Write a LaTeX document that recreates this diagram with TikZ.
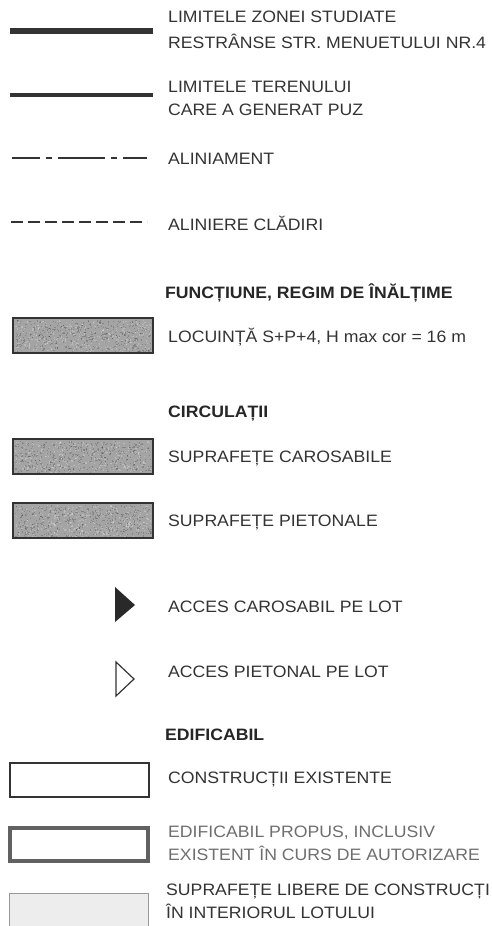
\documentclass[tikz,border=0pt]{standalone}
\usepackage{fontspec}
\setmainfont{Liberation Sans}[FakeStretch=1.07]
\usepackage{tikz}
\usetikzlibrary{positioning,calc}

\definecolor{ink}{HTML}{333333}
\definecolor{grain}{HTML}{A4A4A4}
\definecolor{pale}{HTML}{6E6E6E}

\tikzset{
	lbl/.style={anchor=base west, inner sep=0pt, text=ink, font=\fontsize{16.5}{24}\selectfont},
	hdr/.style={lbl, text=black!85, font=\fontsize{16.5}{24}\selectfont\bfseries},
	grainbox/.style={draw=ink, line width=1.5pt},
}

\begin{document}
\begin{tikzpicture}[x=1pt,y=-1pt]
		\useasboundingbox (0,0) rectangle (492,926);
		% limits
		\draw[ink, line width=6pt] (10,31) -- (153,31);
		\node[lbl] (zonaA) at (168,23) {LIMITELE ZONEI STUDIATE};
		\node[lbl] (zonaB) at (168,48) {RESTRÂNSE STR. MENUETULUI NR.4};
		\draw[ink, line width=4pt] (10,95) -- (153,95);
		\node[lbl] (terenA) at (168,92) {LIMITELE TERENULUI};
		\node[lbl] (terenB) at (168,115) {CARE A GENERAT PUZ};
		\draw[ink, line width=2.5pt, dash pattern=on 47pt off 6pt on 6pt off 6pt, dash phase=19pt] (12,158) -- (147,158);
		\node[lbl] (alin) at (168,164) {ALINIAMENT};
		\draw[ink, line width=2.5pt, dash pattern=on 12pt off 5pt] (11,222) -- (147,222);
		\node[lbl] (cladiri) at (168,230) {ALINIERE CLĂDIRI};
		% functiune
		\node[hdr] (functiune) at (165,298) {FUNCȚIUNE, REGIM DE ÎNĂLȚIME};
		\pgfmathsetseed{11}
		\foreach \by in {318,439,503} {
			\fill[grain] (13,\by) rectangle (153,\by+35);
			\foreach \k in {1,...,420}
				\fill[black, opacity=.18] (15+rnd*136,\by+2+rnd*31) rectangle ++(1.2,1.2);
			\foreach \k in {1,...,320}
				\fill[white, opacity=.25] (15+rnd*136,\by+2+rnd*31) rectangle ++(1.2,1.2);
			\draw[grainbox] (13,\by) rectangle (153,\by+35);
		}
		\node[lbl] (locuinta) at (168,342) {LOCUINȚĂ S+P+4, H max cor = 16 m};
		% circulatii
		\node[hdr] (circulatii) at (168,417) {CIRCULAȚII};
		\node[lbl] (carosabile) at (168,462) {SUPRAFEȚE CAROSABILE};
		\node[lbl] (pietonale) at (168,526) {SUPRAFEȚE PIETONALE};
		\fill[ink!80!black] (115,587) -- (135,605) -- (115,622) -- cycle;
		\node[lbl] (accesC) at (168,612) {ACCES CAROSABIL PE LOT};
		\draw[ink, line width=1.2pt] (116,662) -- (134,679) -- (116,696) -- cycle;
		\node[lbl] (accesP) at (168,677) {ACCES PIETONAL PE LOT};
		% edificabil
		\node[hdr] (edificabil) at (165,740) {EDIFICABIL};
		\draw[ink, line width=1.5pt] (10,763) rectangle (149,797);
		\node[lbl] (existente) at (168,783) {CONSTRUCȚII EXISTENTE};
		\draw[black!62, line width=4pt] (10,828) rectangle (148,861);
		\node[lbl, text=pale] (propusA) at (168,837) {EDIFICABIL PROPUS, INCLUSIV};
		\node[lbl, text=pale] (propusB) at (168,860) {EXISTENT ÎN CURS DE AUTORIZARE};
		\draw[black!40, line width=1pt, fill=black!7] (9,893) rectangle (148,930);
		\node[lbl] (libereA) at (166,895) {SUPRAFEȚE LIBERE DE CONSTRUCȚI};
		\node[lbl] (libereB) at (166,918) {ÎN INTERIORUL LOTULUI};
	\end{tikzpicture}
\end{document}
